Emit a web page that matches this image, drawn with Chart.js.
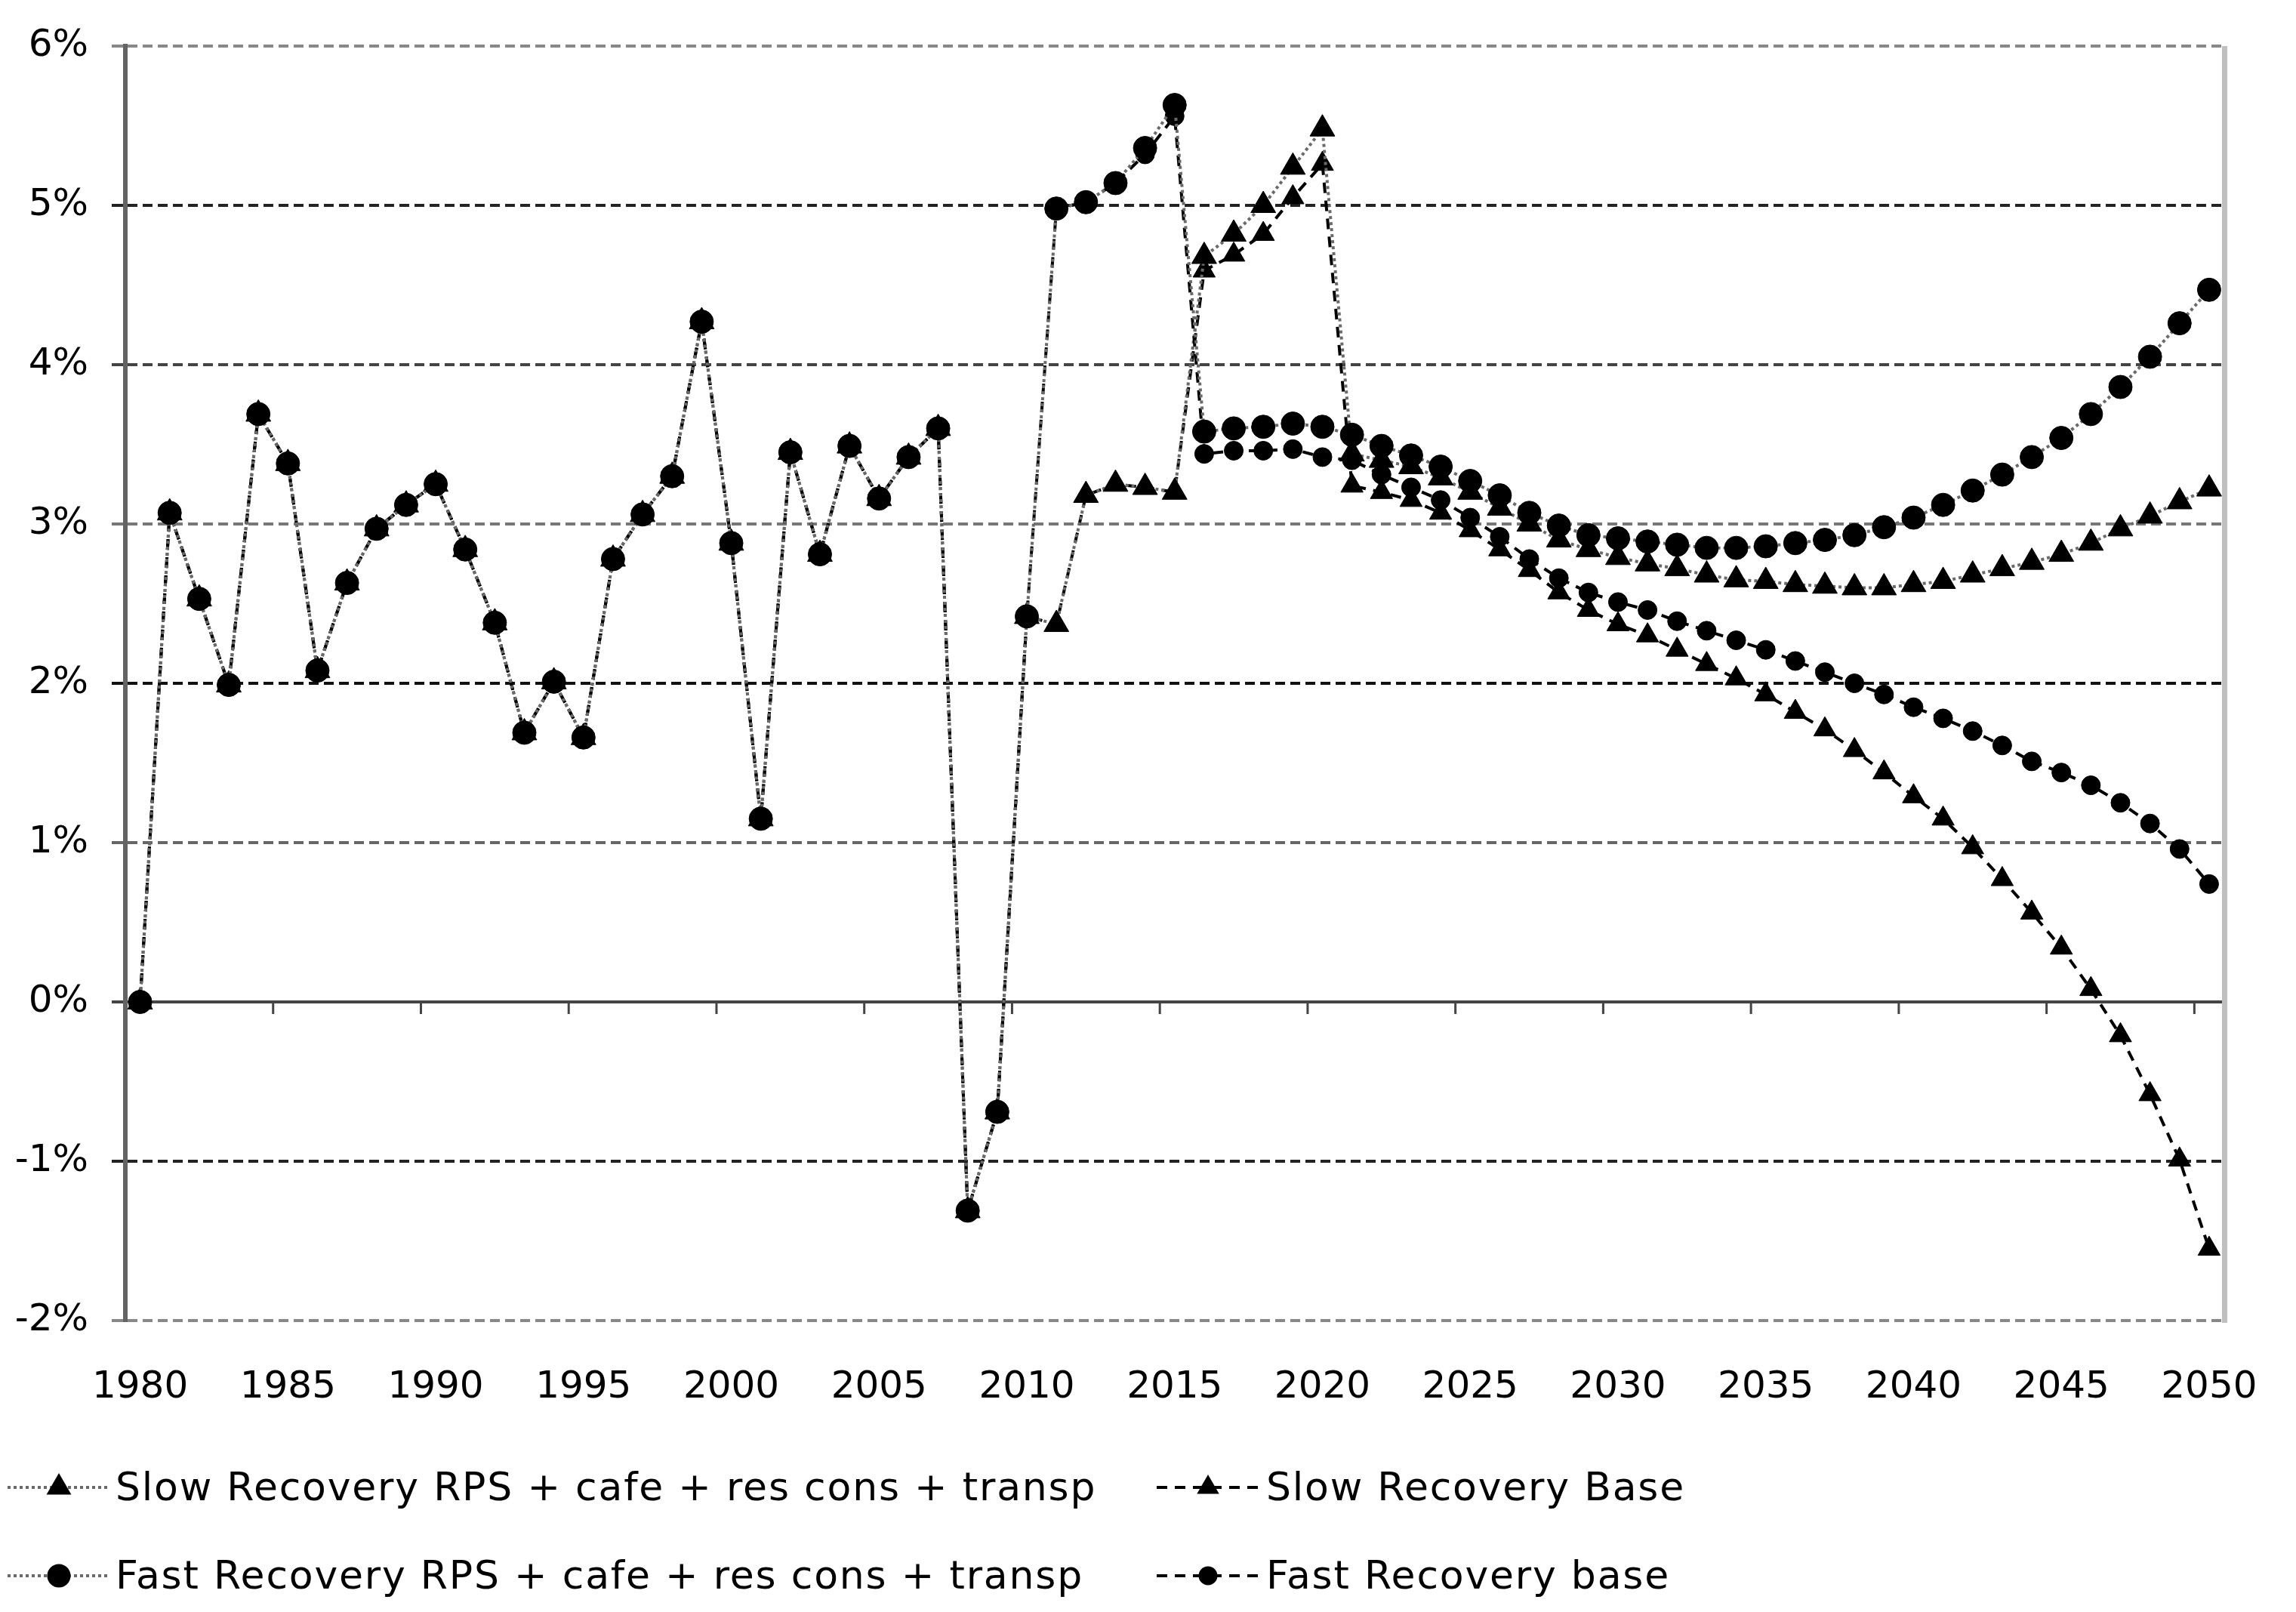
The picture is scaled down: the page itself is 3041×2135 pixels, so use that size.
<!DOCTYPE html>
<html lang="en">
<head>
    <meta charset="UTF-8">
    <title>Recovery scenarios 1980-2050</title>
    <script src="https://cdn.jsdelivr.net/npm/chart.js"></script>
    <style>
        html, body {
            margin: 0;
            padding: 0;
            background: #fff;
        }
        body {
            width: 3041px;
            height: 2135px;
            position: relative;
            overflow: hidden;
            font-family: "DejaVu Sans", Verdana, sans-serif;
        }
        #chartBox {
            position: absolute;
            left: 0;
            top: 0;
            width: 3041px;
            height: 1880px;
        }
        .legend-text {
            position: absolute;
            font-size: 52px;
            line-height: 52px;
            letter-spacing: 1.8px;
            color: #000;
            white-space: nowrap;
        }
        .legend-symbol {
            position: absolute;
        }
    </style>
</head>
<body>
    <div id="chartBox"><canvas id="chart"></canvas></div>
    <div id="legend"></div>

    <script>
        // Categories: one per year
        const years = [];
        for (let y = 1980; y <= 2050; y++) years.push(String(y));

        // 1980-2010, common to all four scenarios (%)
        const history = [0.00, 3.07, 2.53, 1.99, 3.69, 3.38, 2.08, 2.63, 2.97, 3.12,
                         3.25, 2.84, 2.38, 1.69, 2.01, 1.66, 2.78, 3.06, 3.30, 4.27,
                         2.88, 1.15, 3.45, 2.81, 3.49, 3.16, 3.42, 3.60, -1.31, -0.69,
                         2.42];

        // 2011-2050 projections (%)
        const slowRps  = [2.37, 3.18, 3.25, 3.23, 3.20, 4.68, 4.82, 5.00, 5.24, 5.48,
                          3.44, 3.40, 3.36, 3.29, 3.20, 3.10, 3.00, 2.90, 2.84, 2.79,
                          2.75, 2.72, 2.68, 2.65, 2.64, 2.62, 2.61, 2.60, 2.60, 2.62,
                          2.64, 2.68, 2.72, 2.76, 2.81, 2.88, 2.97, 3.05, 3.14, 3.22];
        const slowBase = [2.37, 3.18, 3.25, 3.23, 3.20, 4.59, 4.69, 4.82, 5.05, 5.26,
                          3.24, 3.20, 3.15, 3.07, 2.96, 2.84, 2.71, 2.57, 2.46, 2.37,
                          2.30, 2.21, 2.12, 2.03, 1.93, 1.82, 1.71, 1.58, 1.44, 1.29,
                          1.15, 0.97, 0.77, 0.56, 0.34, 0.08, -0.21, -0.58, -0.99, -1.55];
        const fastRps  = [4.98, 5.02, 5.14, 5.36, 5.63, 3.58, 3.60, 3.61, 3.63, 3.61,
                          3.56, 3.49, 3.43, 3.36, 3.27, 3.18, 3.07, 2.99, 2.93, 2.91,
                          2.89, 2.87, 2.85, 2.85, 2.86, 2.88, 2.90, 2.93, 2.98, 3.04,
                          3.12, 3.21, 3.31, 3.42, 3.54, 3.69, 3.86, 4.05, 4.26, 4.47];
        const fastBase = [4.98, 5.02, 5.14, 5.32, 5.56, 3.44, 3.46, 3.46, 3.47, 3.42,
                          3.40, 3.31, 3.23, 3.15, 3.04, 2.92, 2.78, 2.66, 2.57, 2.51,
                          2.46, 2.39, 2.33, 2.27, 2.21, 2.14, 2.07, 2.00, 1.93, 1.85,
                          1.78, 1.70, 1.61, 1.51, 1.44, 1.36, 1.25, 1.12, 0.96, 0.74];

        const seriesLabels = [
            'Slow Recovery RPS + cafe + res cons + transp',
            'Slow Recovery Base',
            'Fast Recovery RPS + cafe + res cons + transp',
            'Fast Recovery base'
        ];

        // y tick marks shown as "n%"
        const yMin = -2, yMax = 6;

        const FONT = '"DejaVu Sans", Verdana, sans-serif';
        Chart.defaults.font.family = FONT;

        // line looks: gray dotted for the policy runs, black dashed for base runs
        const dotted = { color: '#6a6a6a', dash: [4, 4], width: 4 };
        const dashed = { color: '#000000', dash: [14, 10], width: 4 };

        function makeSet(label, values, look, marker, radius, order) {
            return {
                label: label,
                data: history.concat(values),
                borderColor: look.color,
                borderDash: look.dash,
                borderWidth: look.width,
                tension: 0,
                fill: false,
                pointStyle: marker,
                pointRadius: radius,
                pointBackgroundColor: '#000',
                pointBorderColor: '#000',
                pointBorderWidth: 1,
                order: order
            };
        }

        const datasets = [
            makeSet(seriesLabels[0], slowRps, dotted, 'triangle', 19, 2),
            makeSet(seriesLabels[1], slowBase, dashed, 'triangle', 17, 3),
            makeSet(seriesLabels[2], fastRps, dotted, 'circle', 15.5, 0),
            makeSet(seriesLabels[3], fastBase, dashed, 'circle', 12.5, 1)
        ];

        // dashed gridlines come out in slightly different greys in the original
        const gridGreys = { '6': '#888888', '5': '#222222', '4': '#444444', '3': '#777777',
                            '2': '#111111', '1': '#666666', '0': '#444444', '-1': '#222222', '-2': '#888888' };

        // small ticks under the 0% line and the light frame on the right
        const axisDecor = {
            id: 'axisDecor',
            beforeDatasetsDraw(chart) {
                const { ctx, chartArea, scales } = chart;
                const x = scales.x, y = scales.y;
                const y0 = y.getPixelForValue(0);
                ctx.save();
                ctx.strokeStyle = '#444';
                ctx.lineWidth = 3;
                ctx.beginPath();
                for (let i = 5; i < years.length; i += 5) {
                    const xb = (x.getPixelForValue(i - 1) + x.getPixelForValue(i)) / 2;
                    ctx.moveTo(xb, y0);
                    ctx.lineTo(xb, y0 + 16);
                }
                ctx.stroke();
                ctx.strokeStyle = '#c0c0c0';
                ctx.lineWidth = 7;
                ctx.beginPath();
                ctx.moveTo(chartArea.right + 1, chartArea.top);
                ctx.lineTo(chartArea.right + 1, chartArea.bottom + 3);
                ctx.stroke();
                ctx.restore();
            }
        };

        new Chart(document.getElementById('chart'), {
            type: 'line',
            data: { labels: years, datasets: datasets },
            options: {
                responsive: true,
                maintainAspectRatio: false,
                devicePixelRatio: 1,
                animation: false,
                layout: { padding: { left: 0, top: 51, right: 63, bottom: 0 } },
                plugins: {
                    legend: { display: false },
                    tooltip: { enabled: false }
                },
                scales: {
                    x: {
                        type: 'category',
                        offset: true,
                        grid: { display: false },
                        border: { display: false },
                        ticks: {
                            autoSkip: false,
                            maxRotation: 0,
                            minRotation: 0,
                            padding: 51,
                            color: '#000',
                            font: { size: 50 },
                            callback: function(value, index) {
                                return index % 5 === 0 ? years[index] : '';
                            }
                        },
                        afterFit: function(scale) { scale.height = 131; }
                    },
                    y: {
                        min: yMin,
                        max: yMax,
                        ticks: {
                            stepSize: 1,
                            padding: 31,
                            color: '#000',
                            font: { size: 50 },
                            callback: function(value) { return value + '%'; }
                        },
                        grid: {
                            color: ctx => gridGreys[String(ctx.tick.value)] || '#444',
                            tickColor: ctx => gridGreys[String(ctx.tick.value)] || '#444',
                            lineWidth: 4,
                            tickLength: 18,
                            tickWidth: 4
                        },
                        border: {
                            display: true,
                            color: '#646464',
                            width: 6,
                            dash: ctx => (ctx.type === 'tick' && ctx.tick.value !== 0) ? [13, 7] : []
                        },
                        afterFit: function(scale) { scale.width = 166; }
                    }
                }
            },
            plugins: [axisDecor]
        });

        // Legend: two columns, two rows, line sample with marker then label
        const legendPlaces = [
            { set: 0, symLeft: 10, textLeft: 153, top: 1943 },
            { set: 1, symLeft: 1532, textLeft: 1677, top: 1943 },
            { set: 2, symLeft: 10, textLeft: 153, top: 2060 },
            { set: 3, symLeft: 1532, textLeft: 1677, top: 2060 }
        ];
        const SVGNS = 'http://www.w3.org/2000/svg';
        const legendBox = document.getElementById('legend');
        legendPlaces.forEach(function(p) {
            const ds = datasets[p.set];
            const w = 136, h = 44, cx = w / 2, cy = h / 2;
            const svg = document.createElementNS(SVGNS, 'svg');
            svg.setAttribute('width', w);
            svg.setAttribute('height', h);
            svg.setAttribute('class', 'legend-symbol');
            svg.style.left = p.symLeft + 'px';
            svg.style.top = (p.top + 27 - cy) + 'px';

            const line = document.createElementNS(SVGNS, 'line');
            line.setAttribute('x1', 0);
            line.setAttribute('y1', cy);
            line.setAttribute('x2', w);
            line.setAttribute('y2', cy);
            line.setAttribute('stroke', ds.borderColor);
            line.setAttribute('stroke-width', ds.borderWidth);
            line.setAttribute('stroke-dasharray', ds.borderDash.join(' '));
            svg.appendChild(line);

            const r = ds.pointRadius;
            let mark;
            if (ds.pointStyle === 'circle') {
                mark = document.createElementNS(SVGNS, 'circle');
                mark.setAttribute('cx', cx);
                mark.setAttribute('cy', cy);
                mark.setAttribute('r', r);
            } else {
                mark = document.createElementNS(SVGNS, 'polygon');
                const pts = [[cx, cy - r], [cx + 0.866 * r, cy + r / 2], [cx - 0.866 * r, cy + r / 2]];
                mark.setAttribute('points', pts.map(q => q.join(',')).join(' '));
            }
            mark.setAttribute('fill', '#000');
            svg.appendChild(mark);
            legendBox.appendChild(svg);

            const txt = document.createElement('div');
            txt.className = 'legend-text';
            txt.style.left = p.textLeft + 'px';
            txt.style.top = p.top + 'px';
            txt.textContent = ds.label;
            legendBox.appendChild(txt);
        });
    </script>
</body>
</html>
